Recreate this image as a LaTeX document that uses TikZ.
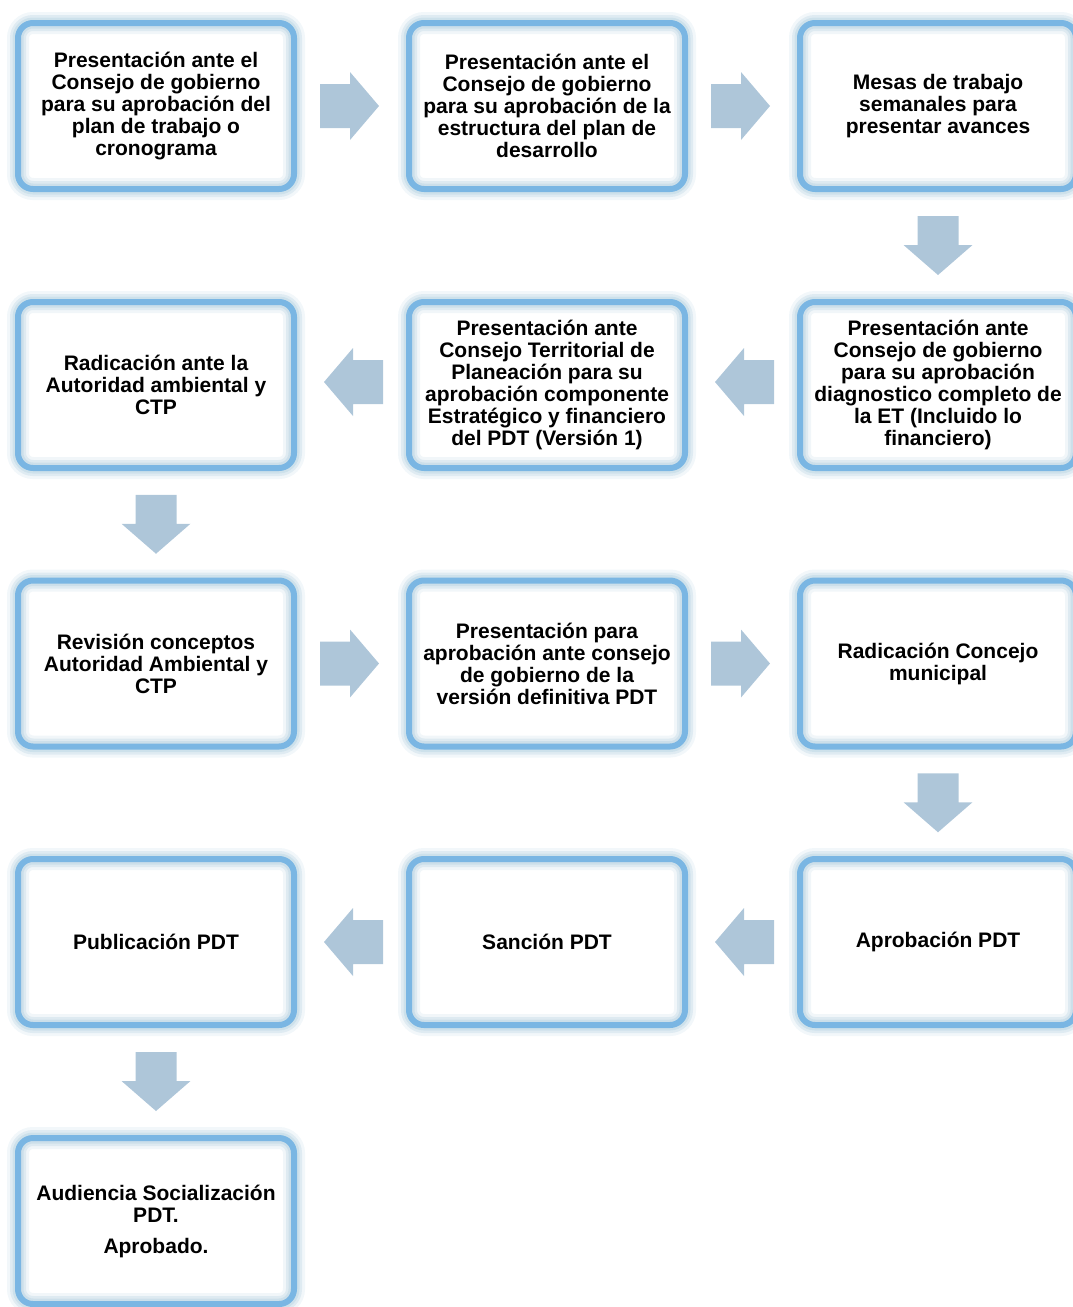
\documentclass[tikz,border=0pt]{standalone}
\usepackage{fontspec}
\setmainfont{Liberation Sans}
\usetikzlibrary{calc}
\definecolor{bord}{HTML}{7AB6E3}
\definecolor{glowc}{HTML}{BCD6E4}
\definecolor{arrc}{HTML}{AEC6D9}
\tikzset{
  stepbox/.style={
    rectangle, rounded corners=15pt, minimum width=276pt, minimum height=166pt,
    inner sep=0pt, align=center, font=\fontsize{21pt}{22pt}\selectfont\bfseries,
    preaction={fill=white},
    preaction={draw=glowc, line width=22pt, draw opacity=0.2},
    preaction={draw=glowc, line width=16pt, draw opacity=0.35},
    preaction={draw=glowc, line width=11pt, draw opacity=0.5},
    draw=bord, line width=6pt},
  arrowfill/.style={fill=arrc, draw=none}
}
\newcommand\rarr[1]{\fill[arrowfill] ($(#1)+(-29.5,22)$) -- ++(30,0) -- ++(0,12) -- ++(29,-34) -- ++(-29,-34) -- ++(0,12) -- ++(-30,0) -- cycle;}
\newcommand\larr[1]{\fill[arrowfill] ($(#1)+(29.5,22)$) -- ++(-30,0) -- ++(0,12) -- ++(-29,-34) -- ++(29,-34) -- ++(0,12) -- ++(30,0) -- cycle;}
\newcommand\darr[1]{\fill[arrowfill] ($(#1)+(-20.5,29.5)$) -- ++(0,-29) -- ++(-14,0) -- ++(34.5,-30) -- ++(34.5,30) -- ++(-14,0) -- ++(0,29) -- cycle;}
\begin{document}
\begin{tikzpicture}[x=1pt,y=1pt]
\useasboundingbox (0,0) rectangle (1073,-1307);
% row 1
\node[stepbox] (a1) at (156,-106) {Presentación ante el\\Consejo de gobierno\\para su aprobación del\\plan de trabajo o\\cronograma};
\node[stepbox] (a2) at (547,-106) {Presentación ante el\\Consejo de gobierno\\para su aprobación de la\\estructura del plan de\\desarrollo};
\node[stepbox] (a3) at (938,-106) {Mesas de trabajo\\semanales para\\presentar avances};
% row 2
\node[stepbox] (b3) at (938,-385) {Presentación ante\\Consejo de gobierno\\para su aprobación\\diagnostico completo de\\la ET (Incluido lo\\financiero)};
\node[stepbox] (b2) at (547,-385) {Presentación ante\\Consejo Territorial de\\Planeación para su\\aprobación componente\\Estratégico y financiero\\del PDT (Versión 1)};
\node[stepbox] (b1) at (156,-385) {Radicación ante la\\Autoridad ambiental y\\CTP};
% row 3
\node[stepbox] (c1) at (156,-663.5) {Revisión conceptos\\Autoridad Ambiental y\\CTP};
\node[stepbox] (c2) at (547,-663.5) {Presentación para\\aprobación ante consejo\\de gobierno de la\\versión definitiva PDT};
\node[stepbox] (c3) at (938,-663.5) {Radicación Concejo\\municipal};
% row 4
\node[stepbox] (d3) at (938,-942) {Aprobación PDT};
\node[stepbox] (d2) at (547,-942) {Sanción PDT};
\node[stepbox] (d1) at (156,-942) {Publicación PDT};
% row 5
\node[stepbox] (e1) at (156,-1221) {Audiencia Socialización\\PDT.\\[9pt]Aprobado.};
% arrows
\coordinate (m12) at ($(a1.east)!0.5!(a2.west)+(-2,0)$);
\coordinate (m23) at ($(a2.east)!0.5!(a3.west)+(-2,0)$);
\coordinate (ma3b3) at ($(a3.south)!0.5!(b3.north)$);
\coordinate (mb32) at ($(b3.west)!0.5!(b2.east)+(2,3)$);
\coordinate (mb21) at ($(b2.west)!0.5!(b1.east)+(2,3)$);
\coordinate (mb1c1) at ($(b1.south)!0.5!(c1.north)$);
\coordinate (mc12) at ($(c1.east)!0.5!(c2.west)+(-2,0)$);
\coordinate (mc23) at ($(c2.east)!0.5!(c3.west)+(-2,0)$);
\coordinate (mc3d3) at ($(c3.south)!0.5!(d3.north)$);
\coordinate (md32) at ($(d3.west)!0.5!(d2.east)+(2,0)$);
\coordinate (md21) at ($(d2.west)!0.5!(d1.east)+(2,0)$);
\coordinate (md1e1) at ($(d1.south)!0.5!(e1.north)$);
\rarr{m12}\rarr{m23}\darr{ma3b3}
\larr{mb32}\larr{mb21}\darr{mb1c1}
\rarr{mc12}\rarr{mc23}\darr{mc3d3}
\larr{md32}\larr{md21}\darr{md1e1}
\end{tikzpicture}
\end{document}
